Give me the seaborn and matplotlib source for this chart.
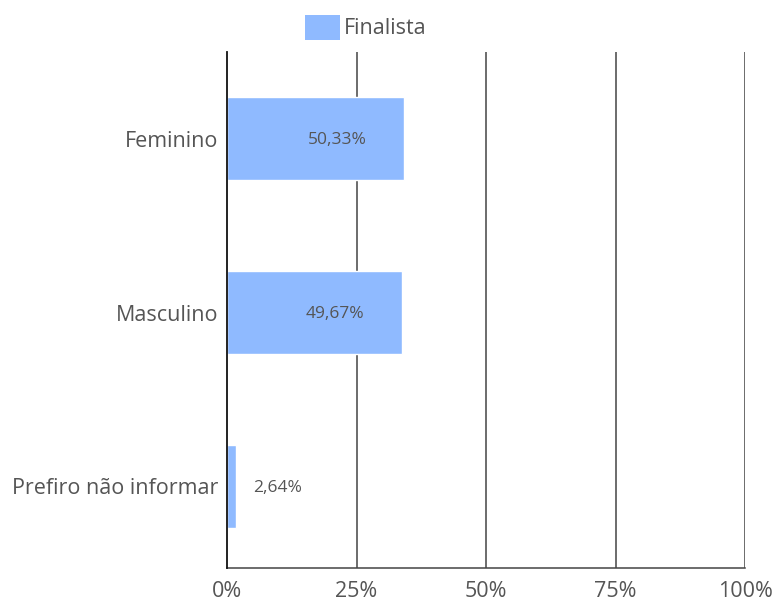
import matplotlib
matplotlib.use('Agg')
import matplotlib.pyplot as plt
import seaborn as sns
import pandas as pd
from matplotlib.patches import Patch

# Data
categories = ['Feminino', 'Masculino', 'Prefiro não informar']
bar_lengths = [34.2, 33.8, 1.8]          # drawn bar length (% of axis)
value_labels = ['50,33%', '49,67%', '2,64%']
x_ticks = [0, 25, 50, 75, 100]
x_tick_labels = ['0%', '25%', '50%', '75%', '100%']
series_name = 'Finalista'

df = pd.DataFrame({'categoria': categories, 'valor': bar_lengths})

sns.set_style('white')
plt.rcParams['font.family'] = ['Open Sans', 'DejaVu Sans']

bar_color = '#8FBAFF'
text_color = '#555555'

fig = plt.figure(figsize=(7.79, 6.03), dpi=100)
ax = fig.add_axes([0.2914, 0.058, 0.665, 0.856])

sns.barplot(data=df, y='categoria', x='valor', orient='h', color=bar_color,
            saturation=1, width=0.48, ax=ax, zorder=3)

ax.set_xlim(0, 100)
ax.set_ylim(2.47, -0.5)
ax.set_xticks(x_ticks)
ax.set_xticklabels(x_tick_labels, fontsize=15.5, color=text_color)
ax.tick_params(axis='y', labelsize=15.5, colors=text_color, length=0, pad=6)
ax.tick_params(axis='x', length=0, pad=9)
ax.set_xlabel('')
ax.set_ylabel('')

# vertical grid lines
for t in x_ticks[1:]:
    ax.axvline(t, color='#444444', lw=1.1, zorder=1)

for s in ['top', 'right']:
    ax.spines[s].set_visible(False)
ax.spines['left'].set_color('#111111')
ax.spines['left'].set_linewidth(1.3)
ax.spines['left'].set_zorder(4)
ax.spines['bottom'].set_color('#444444')
ax.spines['bottom'].set_linewidth(1.1)

# value labels
for i, (v, lab) in enumerate(zip(bar_lengths, value_labels)):
    if v > 10:
        ax.text(v - 7.3, i + 0.01, lab, ha='right', va='center', fontsize=12.5,
                color=text_color, zorder=5)
    else:
        ax.text(v + 3.3, i + 0.01, lab, ha='left', va='center', fontsize=12.5,
                color=text_color, zorder=5)

handle = Patch(facecolor=bar_color, edgecolor='none')
fig.legend([handle], [series_name], loc='center', bbox_to_anchor=(0.47, 0.955),
           frameon=False, fontsize=15.5, handlelength=1.6, handleheight=1.4,
           handletextpad=0.2, labelcolor=text_color)

fig.savefig('out.png', dpi=100, facecolor='white')
